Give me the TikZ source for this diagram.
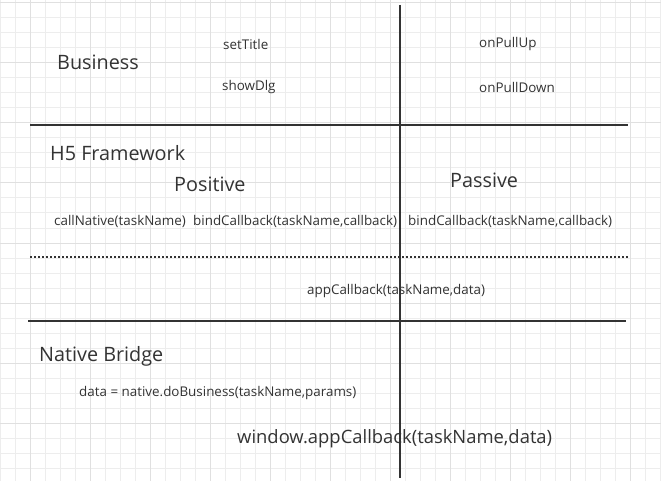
\documentclass[tikz,border=0pt]{standalone}
\usepackage{fontspec}
\setmainfont{Open Sans}
\definecolor{inkgray}{HTML}{333333}
\definecolor{minorgray}{HTML}{EDEDED}
\definecolor{majorgray}{HTML}{E0E0E0}
\newcommand\bigtext{\fontsize{19.8}{22}\selectfont}
\newcommand\smalltext{\fontsize{13.4}{15}\selectfont}
\newcommand\calltext{\fontsize{18.4}{20}\selectfont}
\begin{document}
\begin{tikzpicture}[
    x=1pt,y=-1pt,
    minor/.style={minorgray,line width=1pt},
    major/.style={majorgray,line width=1pt},
    divider/.style={inkgray,line width=2pt},
    dotline/.style={inkgray,line width=2pt,dash pattern=on 2pt off 2pt},
    layer/.style={inner sep=0pt,anchor=west,text=inkgray,font=\bigtext},
    call/.style={inner sep=0pt,anchor=west,text=inkgray,font=\smalltext}
  ]
    \useasboundingbox[fill=white] (0,0) rectangle (661,481);

    % grid
    \foreach \gx in {0,15,...,660}
      \draw[minor] (\gx,0) -- (\gx,481);
    \foreach \gy in {3,18,...,480}
      \draw[minor] (0,\gy) -- (661,\gy);
    \foreach \gx in {30,90,...,660}
      \draw[major] (\gx,0) -- (\gx,481);
    \foreach \gy in {3,63,...,480}
      \draw[major] (0,\gy) -- (661,\gy);

    % dividers
    \coordinate (top) at (400,5);
    \coordinate (bottom) at (400,478);
    \coordinate (bizL) at (30,125);
    \coordinate (bizR) at (628,125);
    \coordinate (dotL) at (30,257);
    \coordinate (dotR) at (628,257);
    \coordinate (natL) at (28,321);
    \coordinate (natR) at (626,321);

    \draw[divider] (top) -- (bottom);
    \draw[divider] (bizL) -- (bizR);
    \draw[dotline] (dotL) -- (dotR);
    \draw[divider] (natL) -- (natR);

    % business
    \node[layer] (business) at (57,62) {Business};
    \node[call] (settitle) at (223,44) {setTitle};
    \node[call] (showdlg) at (222,87) {showDlg};
    \node[call] (pullup) at (479,44) {onPullUp};
    \node[call] (pulldown) at (479,87) {onPullDown};

    % h5 framework
    \node[layer] (h5) at (50,153) {H5 Framework};
    \node[layer] (positive) at (174,184) {Positive};
    \node[layer] (passive) at (450,180) {Passive};
    \node[call] (callnative) at (54,221) {callNative(taskName)};
    \node[call] (bindpos) at (193,221) {bindCallback(taskName,callback)};
    \node[call] (bindpas) at (408,221) {bindCallback(taskName,callback)};
    \node[call] (appcb) at (307,291) {appCallback(taskName,data)};

    % native bridge
    \node[layer] (bridge) at (39,356) {Native Bridge};
    \node[call] (dobiz) at (79,393) {data = native.doBusiness(taskName,params)};
    \node[layer,font=\calltext] (wincb) at (237,439) {window.appCallback(taskName,data)};
  \end{tikzpicture}
\end{document}
